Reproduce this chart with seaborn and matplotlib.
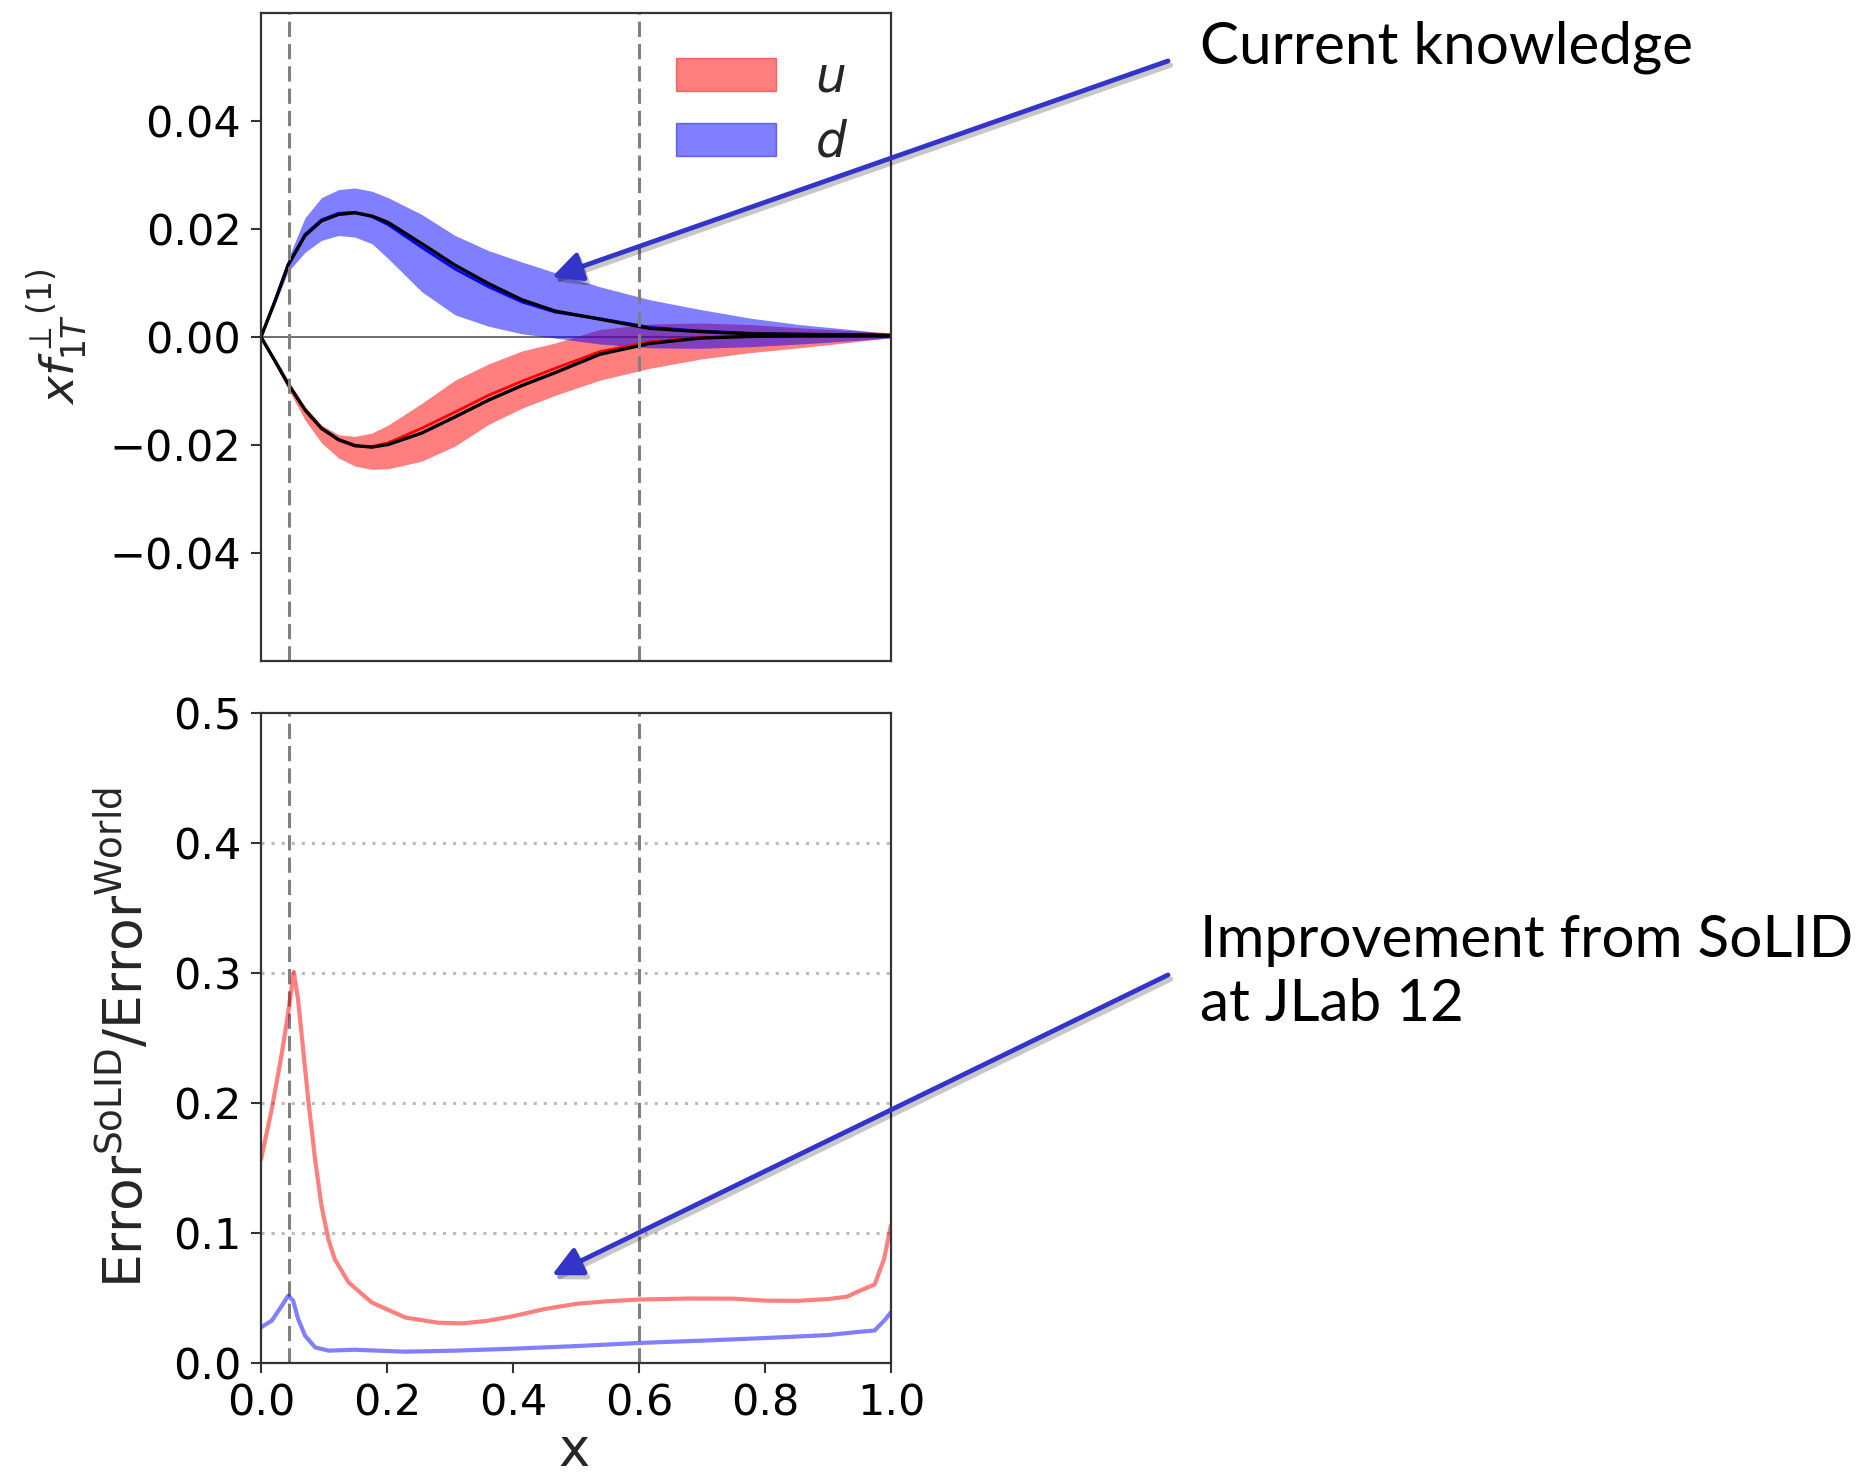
import numpy as np
import pandas as pd
import matplotlib
matplotlib.use("Agg")
import matplotlib.pyplot as plt
import seaborn as sns
from matplotlib.patches import Patch, FancyArrowPatch, ArrowStyle
import matplotlib.patheffects as pe

# ---------------- data ----------------
x_top = [0.0, 0.022, 0.043, 0.070, 0.096, 0.123, 0.149, 0.176, 0.202, 0.255, 0.308,
         0.361, 0.414, 0.467, 0.538, 0.617, 0.697, 0.776, 0.855, 0.935, 1.0]

d_upper = [0, 0.0072, 0.0145, 0.0221, 0.0258, 0.0273, 0.0276, 0.0270, 0.0258, 0.0227, 0.0188,
           0.0160, 0.0139, 0.0119, 0.0093, 0.0069, 0.0051, 0.0035, 0.0023, 0.0014, 0.0006]
d_black = [0, 0.0066, 0.0133, 0.0188, 0.0215, 0.0227, 0.0230, 0.0224, 0.0212, 0.0173, 0.0133,
           0.0099, 0.0069, 0.0048, 0.0033, 0.0016, 0.0010, 0.0006, 0.0005, 0.0004, 0.0003]
d_line = [0, 0.0066, 0.0134, 0.0190, 0.0217, 0.0229, 0.0231, 0.0223, 0.0208, 0.0166, 0.0126,
          0.0093, 0.0065, 0.0046, 0.0034, 0.0018, 0.0011, 0.0007, 0.0005, 0.0004, 0.0003]
d_lower = [0, 0.0060, 0.0121, 0.0157, 0.0179, 0.0188, 0.0185, 0.0173, 0.0145, 0.0084, 0.0041,
           0.0020, 0.0006, -0.0002, -0.0013, -0.0020, -0.0021, -0.0018, -0.0013, -0.0007, -0.0002]

u_black = [0, -0.0044, -0.0087, -0.0135, -0.0169, -0.0190, -0.0201, -0.0204, -0.0199, -0.0178,
           -0.0148, -0.0117, -0.0090, -0.0066, -0.0032, -0.0012, -0.0002, 0.0001, 0.0002, 0.0002, 0.0002]
u_line = [0, -0.0044, -0.0088, -0.0136, -0.0170, -0.0191, -0.0202, -0.0203, -0.0196, -0.0169,
          -0.0139, -0.0108, -0.0082, -0.0058, -0.0027, -0.0009, -0.0001, 0.0002, 0.0003, 0.0003, 0.0003]
u_upper = [0, -0.0038, -0.0080, -0.0129, -0.0163, -0.0181, -0.0184, -0.0178, -0.0163, -0.0123,
           -0.0080, -0.0050, -0.0026, -0.0011, 0.0014, 0.0024, 0.0026, 0.0023, 0.0017, 0.0012, 0.0008]
u_lower = [0, -0.0050, -0.0096, -0.0154, -0.0196, -0.0224, -0.0239, -0.0245, -0.0244, -0.0230,
           -0.0202, -0.0162, -0.0132, -0.0108, -0.0080, -0.0058, -0.0041, -0.0029, -0.0020, -0.0010, -0.0001]

x_ratio_u = [0.0, 0.017, 0.033, 0.043, 0.052, 0.059, 0.075, 0.086, 0.096, 0.107, 0.117, 0.139,
             0.176, 0.229, 0.281, 0.32, 0.36, 0.40, 0.45, 0.50, 0.55, 0.60, 0.68, 0.75, 0.80,
             0.85, 0.90, 0.93, 0.946, 0.974, 0.989, 1.0]
ratio_u = [0.1565, 0.195, 0.238, 0.269, 0.301, 0.279, 0.2025, 0.156, 0.121, 0.095, 0.080, 0.062,
           0.0465, 0.035, 0.031, 0.0305, 0.0325, 0.036, 0.0415, 0.0455, 0.0475, 0.0488, 0.0496,
           0.0495, 0.048, 0.0478, 0.0492, 0.051, 0.0546, 0.0604, 0.080, 0.106]
x_ratio_d = [0.0, 0.017, 0.033, 0.043, 0.051, 0.059, 0.070, 0.086, 0.107, 0.149, 0.229, 0.308,
             0.40, 0.50, 0.60, 0.70, 0.80, 0.90, 0.946, 0.974, 0.99, 1.0]
ratio_d = [0.0274, 0.0325, 0.044, 0.0517, 0.048, 0.0338, 0.021, 0.012, 0.0095, 0.0102, 0.0087,
           0.0095, 0.011, 0.013, 0.0154, 0.0172, 0.0192, 0.0215, 0.0238, 0.025, 0.033, 0.039]

vlines_x = [0.044, 0.6]
legend_labels = ["$u$", "$d$"]
top_yticks = [-0.04, -0.02, 0.0, 0.02, 0.04]
bot_yticks = [0.0, 0.1, 0.2, 0.3, 0.4, 0.5]
bot_xticks = [0.0, 0.2, 0.4, 0.6, 0.8, 1.0]

# ---------------- figure ----------------
sns.set_style("ticks")
plt.rcParams['font.family'] = ['DejaVu Sans']
W, H = 1874, 1474
fig = plt.figure(figsize=(W / 100, H / 100), dpi=100)

def fx(px):
    return px / W

def fy(py):
    return 1 - py / H

ax1 = fig.add_axes([fx(261), fy(661), (891 - 261) / W, (661 - 13) / H])
ax2 = fig.add_axes([fx(261), fy(1363), (891 - 261) / W, (1363 - 713) / H])

RED = (1, 0, 0)
BLUE = (0, 0, 1)
TICK_FS = 31
VL = dict(color="#808080", lw=2.2, ls=(0, (5, 2.3)))

# top panel
ax1.axhline(0, color="#555555", lw=1.2, zorder=0.5)
ax1.fill_between(x_top, u_lower, u_upper, color=RED, alpha=0.5, lw=0)
ax1.fill_between(x_top, d_lower, d_upper, color=BLUE, alpha=0.5, lw=0)
sns.lineplot(x=x_top, y=u_line, ax=ax1, color=RED, lw=2.0)
sns.lineplot(x=x_top, y=d_line, ax=ax1, color=BLUE, lw=2.0)
sns.lineplot(x=x_top, y=u_black, ax=ax1, color="black", lw=2.4)
sns.lineplot(x=x_top, y=d_black, ax=ax1, color="black", lw=2.4)
for xv in vlines_x:
    ax1.axvline(xv, **VL)
ax1.set_xlim(0, 1)
ax1.set_ylim(-0.06, 0.06)
ax1.set_yticks(top_yticks)
ax1.set_yticklabels([f"{v:.2f}".replace("-", "\u2212") for v in top_yticks])
ax1.set_xticks([])
ax1.set_ylabel(r"$xf_{1T}^{\perp\,(1)}$", fontsize=34)
ax1.yaxis.set_label_coords(-0.27, 0.5)

handles = [Patch(facecolor=RED, alpha=0.5, edgecolor=RED, lw=1),
           Patch(facecolor=BLUE, alpha=0.5, edgecolor=BLUE, lw=1)]
ax1.legend(handles, legend_labels, loc="upper left", bbox_to_anchor=(0.659, 0.937),
           frameon=False, fontsize=35, handlelength=2.05, handleheight=0.68,
           handletextpad=0.8, labelspacing=0.35, borderpad=0, borderaxespad=0)

# bottom panel
for yv in [0.1, 0.2, 0.3, 0.4]:
    ax2.axhline(yv, color="#bbbbbb", lw=2.2, ls=(0, (1, 2.3)), zorder=0.5)
for xv in vlines_x:
    ax2.axvline(xv, **VL)
sns.lineplot(x=x_ratio_u, y=ratio_u, ax=ax2, color=RED, alpha=0.5, lw=3.0)
sns.lineplot(x=x_ratio_d, y=ratio_d, ax=ax2, color=BLUE, alpha=0.5, lw=3.0)
ax2.set_xlim(0, 1)
ax2.set_ylim(0, 0.5)
ax2.set_yticks(bot_yticks)
ax2.set_xticks(bot_xticks)
ax2.set_xticklabels([f"{v:.1f}" for v in bot_xticks])
ax2.set_yticklabels([f"{v:.1f}" for v in bot_yticks])
ax2.set_ylabel(r"Error$^{\rm SoLID}$/Error$^{\rm World}$", fontsize=38.5)
ax2.yaxis.set_label_coords(-0.170, 0.5)
ax2.set_xlabel("x", fontsize=38)
ax2.xaxis.label.set_va("baseline")
ax2.xaxis.set_label_coords(0.497, -0.158)

for ax in (ax1, ax2):
    for sp in ax.spines.values():
        sp.set_visible(True)
        sp.set_color("#333333")
        sp.set_linewidth(1.6)
    ax.tick_params(axis="both", labelsize=TICK_FS, length=7.2, width=1.5, pad=7,
                   colors="#333333", labelcolor="black")

# annotations
ARROW_C = "#3434c8"
style = ArrowStyle("-|>", head_length=1.0, head_width=0.5)
for (x0, y0), (x1, y1) in [((1168, 61), (552, 277)), ((1168, 975), (552, 1275))]:
    arr = FancyArrowPatch((fx(x0), fy(y0)), (fx(x1), fy(y1)), transform=fig.transFigure,
                          arrowstyle=style, mutation_scale=18, color=ARROW_C, lw=3.5,
                          shrinkA=0, shrinkB=0,
                          path_effects=[pe.SimpleLineShadow(offset=(2, -3), alpha=0.22),
                                        pe.Normal()])
    fig.add_artist(arr)

ann_kw = dict(fontsize=42, family=["Lato", "DejaVu Sans"], fontweight="normal",
              color="black", va="baseline", ha="left")
fig.text(fx(1200), fy(63), "Current knowledge", **ann_kw)
fig.text(fx(1200), fy(957), "Improvement from SoLID", **ann_kw)
fig.text(fx(1200), fy(1021), "at JLab 12", **ann_kw)

fig.savefig("out.png", dpi=100)
